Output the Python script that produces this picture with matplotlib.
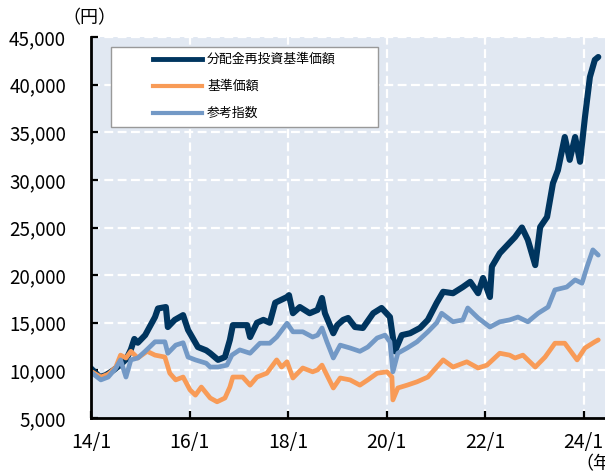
import matplotlib
matplotlib.use("Agg")
import matplotlib.pyplot as plt
from matplotlib.lines import Line2D
from matplotlib.patches import Rectangle

plt.rcParams['font.family'] = ['Noto Sans CJK JP', 'DejaVu Sans']

# ---- data (decimal years, yen) ----
t_navy = [2014.00, 2014.08, 2014.18, 2014.30, 2014.45, 2014.60, 2014.72, 2014.81, 2014.88, 2014.95,
          2015.10, 2015.30, 2015.36, 2015.52, 2015.56, 2015.70, 2015.87, 2015.97, 2016.17, 2016.34,
          2016.42, 2016.58, 2016.72, 2016.82, 2016.88, 2017.17, 2017.23, 2017.37, 2017.50, 2017.63,
          2017.74, 2017.98, 2018.02, 2018.10, 2018.24, 2018.44, 2018.60, 2018.69, 2018.75, 2018.92,
          2019.00, 2019.12, 2019.22, 2019.36, 2019.52, 2019.73, 2019.90, 2020.07, 2020.17, 2020.31,
          2020.48, 2020.68, 2020.84, 2021.02, 2021.15, 2021.35, 2021.55, 2021.70, 2021.86, 2021.96,
          2022.10, 2022.14, 2022.30, 2022.50, 2022.61, 2022.75, 2022.87, 2023.02, 2023.12, 2023.26,
          2023.38, 2023.48, 2023.62, 2023.72, 2023.83, 2023.93, 2024.03, 2024.13, 2024.23, 2024.30]
v_navy = [10200, 9800, 9300, 9500, 10000, 10600, 11200, 12200, 13300, 12900,
          13700, 15600, 16500, 16650, 14550, 15300, 15800, 14250, 12450, 12100,
          11800, 11100, 11400, 13200, 14750, 14750, 13500, 15000, 15300, 15000,
          17100, 17700, 17900, 16000, 16650, 16000, 16350, 17600, 16000, 13900,
          14750, 15300, 15500, 14550, 14450, 16000, 16550, 15600, 12000, 13700,
          13900, 14450, 15300, 17100, 18250, 18100, 18750, 19300, 18100, 19700,
          17700, 20900, 22300, 23400, 24000, 25000, 23700, 21050, 25050, 26100,
          29650, 31000, 34500, 32100, 34500, 31900, 36600, 40800, 42600, 42900]

t_base = [2014.00, 2014.10, 2014.20, 2014.35, 2014.50, 2014.60, 2014.71, 2014.81, 2014.95, 2015.14,
          2015.30, 2015.50, 2015.60, 2015.72, 2015.87, 2016.01, 2016.12, 2016.24, 2016.42, 2016.56,
          2016.72, 2016.82, 2016.88, 2017.08, 2017.23, 2017.37, 2017.57, 2017.77, 2017.87, 2017.98,
          2018.10, 2018.30, 2018.50, 2018.60, 2018.69, 2018.79, 2018.92, 2019.06, 2019.26, 2019.46,
          2019.62, 2019.81, 2020.01, 2020.11, 2020.13, 2020.23, 2020.42, 2020.62, 2020.84, 2021.02,
          2021.15, 2021.35, 2021.63, 2021.86, 2022.04, 2022.30, 2022.50, 2022.61, 2022.77, 2023.02,
          2023.22, 2023.42, 2023.62, 2023.87, 2024.03, 2024.23, 2024.30]
v_base = [9900, 9600, 9300, 9600, 10300, 11600, 11300, 12000, 11300, 12000,
          11600, 11400, 9700, 9000, 9300, 7950, 7400, 8250, 7100, 6700,
          7100, 8250, 9300, 9300, 8450, 9300, 9700, 11100, 10350, 10900,
          9200, 10250, 9850, 10050, 10550, 9500, 8150, 9200, 9000, 8450,
          9000, 9700, 9850, 9300, 6900, 8150, 8450, 8800, 9300, 10350,
          11100, 10350, 10900, 10250, 10550, 11800, 11600, 11300, 11600, 10350,
          11400, 12850, 12850, 11100, 12350, 13000, 13200]

t_idx = [2014.00, 2014.10, 2014.20, 2014.35, 2014.50, 2014.60, 2014.71, 2014.81, 2014.95, 2015.10,
         2015.30, 2015.50, 2015.56, 2015.72, 2015.87, 2015.97, 2016.12, 2016.34, 2016.42, 2016.58,
         2016.76, 2016.86, 2017.02, 2017.23, 2017.43, 2017.63, 2017.77, 2017.98, 2018.10, 2018.30,
         2018.50, 2018.60, 2018.69, 2018.79, 2018.92, 2019.06, 2019.26, 2019.46, 2019.62, 2019.81,
         2019.97, 2020.07, 2020.13, 2020.23, 2020.42, 2020.62, 2020.84, 2021.02, 2021.12, 2021.35,
         2021.55, 2021.65, 2021.86, 2022.10, 2022.30, 2022.50, 2022.67, 2022.87, 2023.08, 2023.28,
         2023.42, 2023.66, 2023.83, 2023.97, 2024.07, 2024.19, 2024.30]
v_idx = [9800, 9400, 9000, 9300, 10200, 11100, 9300, 11100, 11300, 12000,
         13000, 13000, 11800, 12650, 12900, 11400, 11100, 10750, 10350, 10350,
         10550, 11600, 12150, 11800, 12850, 12850, 13500, 14950, 14050, 14050,
         13500, 13700, 14450, 13000, 11300, 12650, 12350, 12000, 12450, 13400,
         13700, 13000, 9850, 11800, 12350, 13000, 14050, 15000, 16000, 15100,
         15300, 16550, 15500, 14550, 15100, 15300, 15600, 15100, 16000, 16650,
         18450, 18750, 19500, 19150, 20850, 22650, 22100]

series_names = ['分配金再投資基準価額', '基準価額', '参考指数']
colors = ['#00355F', '#F89B57', '#7399C6']

x_ticks = [2014, 2016, 2018, 2020, 2022, 2024]
x_labels = ['14/1', '16/1', '18/1', '20/1', '22/1', '24/1']
y_ticks = [5000, 10000, 15000, 20000, 25000, 30000, 35000, 40000, 45000]
y_labels = ['5,000', '10,000', '15,000', '20,000', '25,000', '30,000', '35,000', '40,000', '45,000']

# ---- figure ----
W, H = 605, 474
fig = plt.figure(figsize=(W / 100, H / 100), dpi=100)
L, R, T, B = 91, 605, 37, 418
ax = fig.add_axes([L / W, 1 - B / H, (R - L) / W, (B - T) / H])
ax.set_facecolor('#E1E8F2')

ax.plot(t_navy, v_navy, color=colors[0], lw=4.4, solid_joinstyle='round', solid_capstyle='round', zorder=3)
ax.plot(t_base, v_base, color=colors[1], lw=3.4, solid_joinstyle='round', solid_capstyle='round', zorder=4)
ax.plot(t_idx, v_idx, color=colors[2], lw=3.4, solid_joinstyle='round', solid_capstyle='round', zorder=5)

ax.set_xlim(2014.0, 2014.0 + (R - L) / 49.25)
ax.set_ylim(5000, 45000)
ax.set_xticks(x_ticks)
ax.set_xticklabels(x_labels)
ax.set_yticks(y_ticks)
ax.set_yticklabels(y_labels)

for y in y_ticks[1:]:
    ax.axhline(y, color='white', lw=1.6, ls=(0, (4, 2)), zorder=1)
for x in x_ticks[1:]:
    ax.axvline(x, color='white', lw=1.6, ls=(0, (4, 2)), zorder=1)

for s in ['top', 'right']:
    ax.spines[s].set_visible(False)
for s in ['left', 'bottom']:
    ax.spines[s].set_linewidth(2.0)
    ax.spines[s].set_color('black')
    ax.spines[s].set_zorder(6)

ax.tick_params(axis='y', direction='in', length=5, width=1.6, pad=18, labelsize=13.5)
ax.tick_params(axis='x', direction='in', length=5, width=1.6, pad=10, labelsize=14)

fig.text(62 / W, 1 - 18 / H, '（円）', fontsize=13, va='center', ha='left')
fig.text(575 / W, 1 - 464 / H, '（年）', fontsize=13, va='center', ha='left')

# ---- legend box ----
def fx(x):
    return x / W

def fy(y):
    return 1 - y / H

fig.add_artist(Rectangle((fx(111), fy(127)), fx(378) - fx(111), fy(47) - fy(127),
                         transform=fig.transFigure, facecolor='white', edgecolor='#999999',
                         lw=1.0, zorder=10))
rows = [59, 86, 113]
for name, col, yy in zip(series_names, colors, rows):
    fig.add_artist(Line2D([fx(153), fx(202)], [fy(yy), fy(yy)], transform=fig.transFigure,
                          color=col, lw=3.5 if col == colors[0] else 3.0, zorder=11))
    fig.text(fx(207), fy(yy), name, fontsize=9.3, va='center', ha='left', zorder=12)

fig.savefig('out.png', dpi=100)
